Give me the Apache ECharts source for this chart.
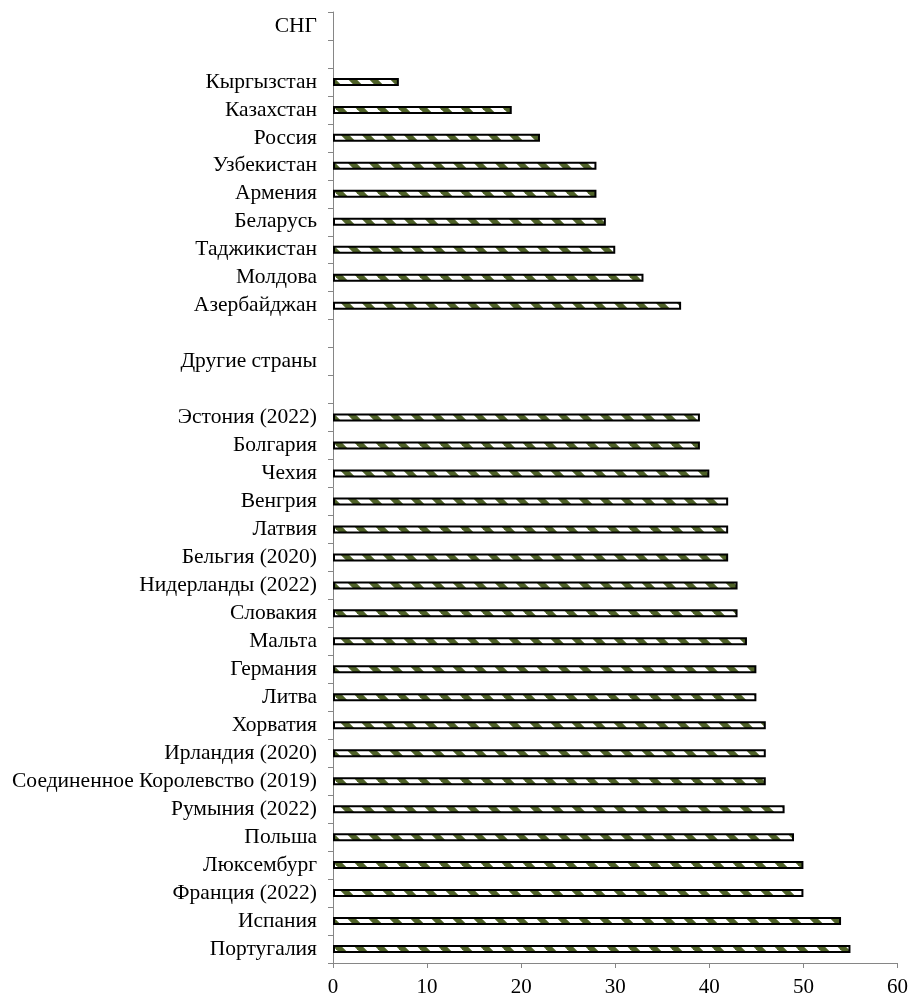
<!DOCTYPE html>
<html><head><meta charset="utf-8">
<script src="https://cdn.jsdelivr.net/npm/echarts@6/dist/echarts.min.js"></script>
<style>html,body{margin:0;padding:0;background:#fff}#c{width:911px;height:999px}</style>
</head><body><div id="c"></div>
<script>
const categories = ['Португалия','Испания','Франция (2022)','Люксембург','Польша','Румыния (2022)','Соединенное Королевство (2019)','Ирландия (2020)','Хорватия','Литва','Германия','Мальта','Словакия','Нидерланды (2022)','Бельгия (2020)','Латвия','Венгрия','Чехия','Болгария','Эстония (2022)',' ','Другие страны','  ','Азербайджан','Молдова','Таджикистан','Беларусь','Армения','Узбекистан','Россия','Казахстан','Кыргызстан','   ','СНГ'];
const values = [55,54,50,50,49,48,46,46,46,45,45,44,43,43,42,42,42,40,39,39,null,null,null,37,33,30,29,28,28,22,19,7,null,null];
const xTicks = [0,10,20,30,40,50,60];

const tile = document.createElement('canvas');
tile.width = 21; tile.height = 21;
const g = tile.getContext('2d');
g.fillStyle = '#ffffff'; g.fillRect(0,0,21,21);
g.strokeStyle = '#4f6228'; g.lineWidth = 6;
for (let c = -42; c <= 42; c += 21) {
  g.beginPath(); g.moveTo(c - 5, -5); g.lineTo(c + 26, 26); g.stroke();
}

const chart = echarts.init(document.getElementById('c'));
chart.setOption({
  animation: false,
  grid: {left: 333, right: 13, top: 12, bottom: 36, containLabel: false},
  xAxis: {
    type: 'value', min: xTicks[0], max: xTicks[xTicks.length-1], interval: 10,
    splitLine: {show: false},
    axisLine: {show: true, lineStyle: {color: '#868686', width: 1}},
    axisTick: {show: true, length: 5, lineStyle: {color: '#868686'}},
    axisLabel: {fontFamily: 'Liberation Serif', fontSize: 21, color: '#000', margin: 14}
  },
  yAxis: {
    type: 'category', data: categories,
    axisLine: {show: true, lineStyle: {color: '#868686', width: 1}},
    axisTick: {show: true, length: 5, lineStyle: {color: '#868686'}},
    axisLabel: {fontFamily: 'Liberation Serif', fontSize: 21.5, color: '#000', margin: 16, interval: 0}
  },
  series: [{
    type: 'bar', data: values, barWidth: 8,
    itemStyle: {color: {image: tile, repeat: 'repeat'}, borderColor: '#000', borderWidth: 2}
  }]
});
</script></body></html>
